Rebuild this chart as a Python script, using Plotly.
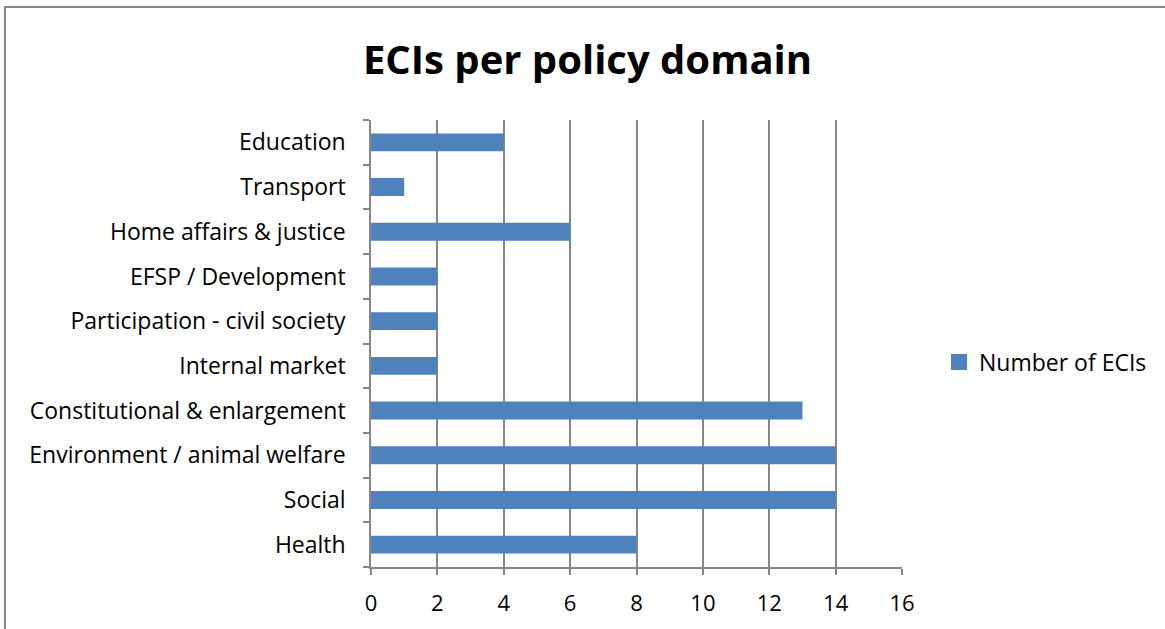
import plotly.graph_objects as go

categories = ["Health", "Social", "Environment / animal welfare", "Constitutional & enlargement",
              "Internal market", "Participation - civil society", "EFSP / Development",
              "Home affairs & justice", "Transport", "Education"]
values = [8, 14, 14, 13, 2, 2, 2, 6, 1, 4]
series_name = "Number of ECIs"
title_text = "ECIs per policy domain"

W, H = 1165, 629
L, R, T, B = 371, 263, 120, 62
pw, ph = W - L - R, H - T - B

bar_color = "#4F81BD"
fig = go.Figure()
fig.add_trace(go.Bar(y=categories, x=values, orientation="h", name=series_name,
                     marker=dict(color=bar_color, line=dict(width=0)), showlegend=False))
# legend entry with a larger square swatch
fig.add_trace(go.Scatter(x=[None], y=[None], mode="markers", name=series_name,
                         marker=dict(symbol="square", size=16, color=bar_color), showlegend=True))

grid = "#868686"
font = "Open Sans, Carlito, Calibri, sans-serif"

def px_x(p):
    return (p - L) / pw

def px_y(p):
    return (H - B - p) / ph

fig.update_layout(
    width=W, height=H,
    margin=dict(l=L, r=R, t=T, b=B, autoexpand=False),
    paper_bgcolor="white", plot_bgcolor="white",
    bargap=0.6,
    font=dict(family=font, size=23, color="black"),
    title=dict(text="<b>" + title_text + "</b>", x=px_x(587.5), xref="paper", xanchor="center",
               y=1 - 60 / H, yanchor="middle", font=dict(size=40, family=font)),
    xaxis=dict(range=[0, 16], dtick=2, showgrid=True, gridcolor=grid, gridwidth=1.5,
               showline=True, linecolor=grid, linewidth=1.5, ticks="outside", ticklen=6,
               tickcolor=grid, tickwidth=1.5, zeroline=False, fixedrange=True,
               tickfont=dict(size=22), ticklabelstandoff=10),
    yaxis=dict(type="category", categoryorder="array", categoryarray=categories,
               showline=True, linecolor=grid, linewidth=1.5, ticks="outside", ticklen=6,
               tickcolor=grid, tickwidth=1.5, tickson="boundaries", showgrid=False,
               fixedrange=True, tickfont=dict(size=23), ticklabelstandoff=19),
    legend=dict(x=px_x(939), y=px_y(362), xanchor="left", yanchor="middle",
                font=dict(size=23), bgcolor="rgba(0,0,0,0)", itemwidth=30),
    shapes=[dict(type="rect", xref="paper", yref="paper",
                 x0=px_x(5), x1=px_x(1170), y0=px_y(640), y1=px_y(7),
                 line=dict(color=grid, width=2), fillcolor="rgba(0,0,0,0)", layer="below")],
)

fig.write_html("out.html", config={"displayModeBar": False},
               post_script="document.body.style.margin='0';")
